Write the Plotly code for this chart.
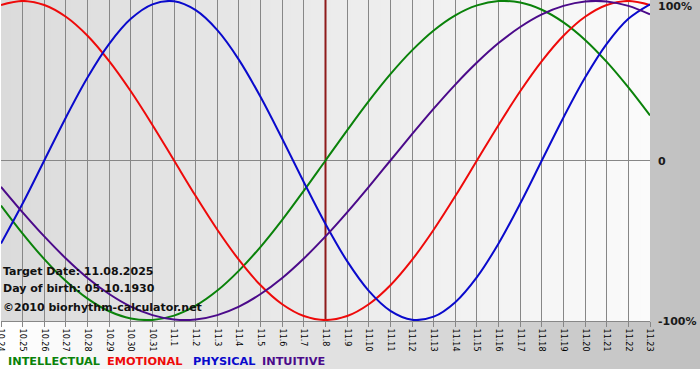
import plotly.graph_objects as go

# ---- data ----
dates = ["10.24", "10.25", "10.26", "10.27", "10.28", "10.29", "10.30", "10.31",
         "11.1", "11.2", "11.3", "11.4", "11.5", "11.6", "11.7", "11.8", "11.9",
         "11.10", "11.11", "11.12", "11.13", "11.14", "11.15", "11.16", "11.17",
         "11.18", "11.19", "11.20", "11.21", "11.22", "11.23"]
target_date = "11.8"

intellectual = [-0.282, -0.458, -0.618, -0.756, -0.866, -0.945, -0.990, -0.999,
                -0.972, -0.910, -0.815, -0.690, -0.541, -0.372, -0.189, 0.000,
                0.189, 0.372, 0.541, 0.690, 0.815, 0.910, 0.972, 0.999,
                0.990, 0.945, 0.866, 0.756, 0.618, 0.458, 0.282]
emotional = [0.975, 1.000, 0.975, 0.901, 0.782, 0.623, 0.434, 0.223,
             0.000, -0.223, -0.434, -0.623, -0.782, -0.901, -0.975, -1.000,
             -0.975, -0.901, -0.782, -0.623, -0.434, -0.223, 0.000, 0.223,
             0.434, 0.623, 0.782, 0.901, 0.975, 1.000, 0.975]
physical = [-0.520, -0.270, 0.000, 0.270, 0.520, 0.731, 0.888, 0.979,
            0.998, 0.942, 0.817, 0.631, 0.398, 0.136, -0.136, -0.398,
            -0.631, -0.817, -0.942, -0.998, -0.979, -0.888, -0.731, -0.520,
            -0.270, 0.000, 0.270, 0.520, 0.731, 0.888, 0.979]
intuitive = [-0.165, -0.325, -0.476, -0.614, -0.736, -0.837, -0.916, -0.969,
             -0.997, -0.997, -0.969, -0.916, -0.837, -0.736, -0.614, -0.476,
             -0.325, -0.165, 0.000, 0.165, 0.325, 0.476, 0.614, 0.736,
             0.837, 0.916, 0.969, 0.997, 0.997, 0.969, 0.916]

series_names = ["INTELLECTUAL", "EMOTIONAL", "PHYSICAL", "INTUITIVE"]
series_colors = ["#0a820a", "#ee0a0a", "#0a0acc", "#4b0a8a"]
right_tick_values = [1, 0, -1]
right_tick_labels = ["100%", "0", "-100%"]
info_lines = ["Target Date: 11.08.2025", "Day of birth: 05.10.1930",
              "\u00a92010 biorhythm-calculator.net"]

# ---- layout geometry ----
FIG_W, FIG_H = 700, 380
ML, MR, MT, MB = 1, 50, 0, 59
PW, PH = FIG_W - ML - MR, FIG_H - MT - MB
Y_RANGE = [-1.006, 1.006]
GRID = "#878787"


def fx(px):
    return (px - ML) / PW


def fy(py):
    return (MT + PH - py) / PH


x_idx = list(range(len(dates)))
fig = go.Figure()

# target-date marker line
ti = dates.index(target_date)
fig.add_trace(go.Scatter(x=[ti, ti], y=Y_RANGE, mode="lines",
                         line=dict(color="#8e1b1b", width=2),
                         hoverinfo="skip", showlegend=False))

for name, vals, col in zip(series_names,
                           [intellectual, emotional, physical, intuitive],
                           series_colors):
    fig.add_trace(go.Scatter(x=x_idx, y=vals, mode="lines", name=name,
                             line=dict(color=col, width=2, shape="spline",
                                       smoothing=1.0),
                             showlegend=False))

shapes = []
# outer background gradient (white -> grey)
step = 10
for px in range(0, FIG_W, step):
    c = round(255 - (255 - 192) * (px + step / 2) / FIG_W)
    shapes.append(dict(type="rect", xref="paper", yref="paper",
                       x0=fx(px), x1=fx(min(px + step + 1, FIG_W)),
                       y0=fy(369), y1=fy(0),
                       fillcolor=f"rgb({c},{c},{c})", line=dict(width=0),
                       layer="below"))
# plot area gradient (grey -> white)
for px in range(ML, ML + PW, step):
    c = round(219 + (251 - 219) * (px - ML + step / 2) / PW)
    shapes.append(dict(type="rect", xref="paper", yref="paper",
                       x0=fx(px), x1=fx(min(px + step + 1, ML + PW)),
                       y0=0, y1=1,
                       fillcolor=f"rgb({c},{c},{c})", line=dict(width=0),
                       layer="below"))

annotations = []
shifts = [-5.5, -1, -1.5]
for v, t, s in zip(right_tick_values, right_tick_labels, shifts):
    annotations.append(dict(xref="paper", yref="y", x=1, y=v, text=f"<b>{t}</b>",
                            xanchor="left", yanchor="middle", xshift=6, yshift=s,
                            showarrow=False,
                            font=dict(family="DejaVu Sans", size=11, color="#1a1a1a")))

for t, py in zip(info_lines, [271, 288, 307]):
    annotations.append(dict(xref="paper", yref="paper", x=fx(1), y=fy(py),
                            text=f"<b>{t}</b>", xanchor="left", yanchor="middle",
                            showarrow=False,
                            font=dict(family="DejaVu Sans", size=11, color="#111111")))

for name, col, px in zip(series_names, series_colors, [6, 105, 191, 260]):
    annotations.append(dict(xref="paper", yref="paper", x=fx(px), y=fy(362),
                            text=f"<b>{name}</b>", xanchor="left", yanchor="middle",
                            showarrow=False,
                            font=dict(family="DejaVu Sans", size=11.3, color=col)))

fig.update_layout(
    width=FIG_W, height=FIG_H,
    margin=dict(l=ML, r=MR, t=MT, b=MB, pad=0),
    paper_bgcolor="#ffffff",
    plot_bgcolor="rgba(0,0,0,0)",
    shapes=shapes,
    annotations=annotations,
    showlegend=False,
    xaxis=dict(range=[0, len(dates) - 1], tickvals=x_idx, ticktext=dates,
               tickangle=90, ticks="outside", ticklen=5, tickcolor=GRID,
               showgrid=True, gridcolor=GRID, gridwidth=1,
               showline=True, linecolor=GRID, linewidth=1,
               zeroline=False, automargin=False, fixedrange=True,
               ticklabeloverflow="allow",
               tickfont=dict(family="DejaVu Sans", size=8, color="#000000")),
    yaxis=dict(range=Y_RANGE, showgrid=False, zeroline=True,
               zerolinecolor=GRID, zerolinewidth=1, showticklabels=False,
               ticks="", automargin=False, fixedrange=True),
)

fig.write_html("out.html", config={"displayModeBar": False},
               post_script="document.body.style.margin='0';"
                           "document.body.style.overflow='hidden';")
